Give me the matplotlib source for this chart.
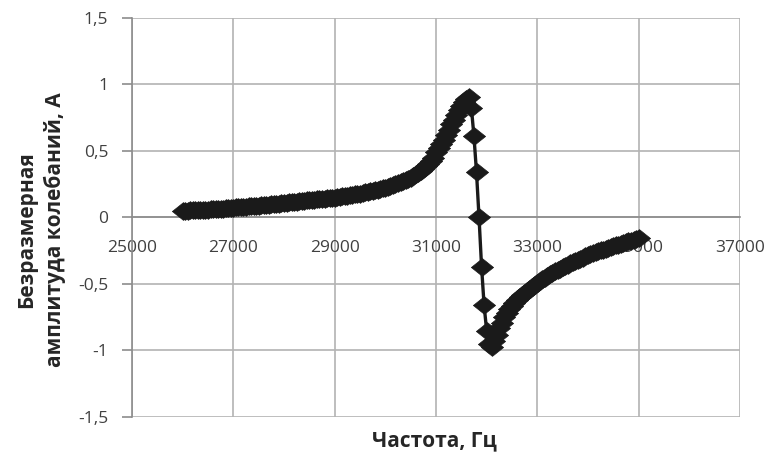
import numpy as np
import matplotlib
matplotlib.use('Agg')
import matplotlib.pyplot as plt

# frequency, Hz (step 50 Hz)
freq = np.arange(26000, 35001, 50)

# dimensionless amplitude
amp = [
    # 26000 - 26950
    0.050, 0.051, 0.052, 0.053, 0.054, 0.055, 0.056, 0.057, 0.058, 0.059,
    0.060, 0.061, 0.062, 0.063, 0.064, 0.066, 0.067, 0.068, 0.070, 0.072,
    # 27000 - 27950
    0.075, 0.076, 0.078, 0.079, 0.080, 0.082, 0.083, 0.085, 0.086, 0.088,
    0.089, 0.091, 0.093, 0.094, 0.096, 0.098, 0.100, 0.102, 0.104, 0.106,
    # 28000 - 28950
    0.110, 0.112, 0.114, 0.116, 0.118, 0.120, 0.122, 0.124, 0.126, 0.128,
    0.130, 0.132, 0.134, 0.136, 0.138, 0.140, 0.142, 0.144, 0.146, 0.148,
    # 29000 - 29950
    0.150, 0.153, 0.156, 0.159, 0.162, 0.165, 0.168, 0.171, 0.174, 0.177,
    0.180, 0.184, 0.188, 0.192, 0.196, 0.200, 0.204, 0.209, 0.214, 0.219,
    # 30000 - 30950
    0.225, 0.231, 0.237, 0.243, 0.250, 0.257, 0.264, 0.272, 0.280, 0.290,
    0.300, 0.312, 0.325, 0.338, 0.352, 0.368, 0.385, 0.404, 0.425, 0.448,
    # 31000 - 31650
    0.490, 0.520, 0.550, 0.585, 0.620, 0.660, 0.700, 0.735, 0.770, 0.805,
    0.840, 0.870, 0.890, 0.905,
    # 31700 - 32100 (resonance)
    0.820, 0.610, 0.340, 0.000, -0.370, -0.660, -0.850, -0.950, -0.975,
    # 32150 - 32950
    -0.930, -0.880, -0.830, -0.790, -0.750, -0.720, -0.690, -0.665, -0.640,
    -0.620, -0.600, -0.580, -0.565, -0.550, -0.535, -0.520, -0.505,
    # 33000 - 33950
    -0.490, -0.477, -0.464, -0.452, -0.440, -0.428, -0.417, -0.406, -0.395,
    -0.385, -0.375, -0.365, -0.355, -0.345, -0.336, -0.327, -0.318, -0.309,
    -0.301, -0.293,
    # 34000 - 35000
    -0.285, -0.277, -0.269, -0.262, -0.255, -0.248, -0.241, -0.234, -0.228,
    -0.222, -0.216, -0.210, -0.204, -0.198, -0.192, -0.186, -0.180, -0.174,
    -0.168, -0.162, -0.156,
]

xticks = [25000, 27000, 29000, 31000, 33000, 35000, 37000]
yticks = [-1.5, -1, -0.5, 0, 0.5, 1, 1.5]
ytick_labels = ['-1,5', '-1', '-0,5', '0', '0,5', '1', '1,5']

plt.rcParams['font.family'] = ['Open Sans', 'DejaVu Sans']

fig = plt.figure(figsize=(7.66, 4.54), dpi=100)
ax = fig.add_axes([0.1723, 0.0815, 0.7937, 0.8789])

# excel-like diamond, a bit wider than tall
diamond = [(-1, 0), (0, 0.8), (1, 0), (0, -0.8), (-1, 0)]
ax.plot(freq, amp, '-', color='#1a1a1a', lw=2.4, marker=diamond, ms=16,
        mec='#1a1a1a', mfc='#1a1a1a', mew=0.5, zorder=3, clip_on=False)

ax.set_xlim(25000, 37000)
ax.set_ylim(-1.5, 1.5)
ax.set_xticks(xticks)
ax.set_xticklabels([str(x) for x in xticks])
ax.set_yticks(yticks)
ax.set_yticklabels(ytick_labels)

grid_c = '#b3b3b3'
ax.grid(True, color=grid_c, lw=1.2)
ax.set_axisbelow(True)

for s in ['top', 'right']:
    ax.spines[s].set_visible(False)
ax.spines['bottom'].set_position(('data', 0))
ax.spines['bottom'].set_color('#8c8c8c')
ax.spines['left'].set_color('#8c8c8c')
ax.spines['bottom'].set_linewidth(1.2)
ax.spines['left'].set_linewidth(1.2)

ax.tick_params(axis='both', colors='#8c8c8c', labelcolor='#404040',
               labelsize=12.5, width=1.2)
ax.tick_params(axis='x', length=0, pad=16)
ax.tick_params(axis='y', length=7, pad=10)

ax.set_xlabel('Частота, Гц', fontsize=15, fontweight='bold', color='#262626')
ax.xaxis.set_label_coords(0.497, -0.033)
ax.set_ylabel('Безразмерная\nамплитуда колебаний, А', fontsize=15,
              fontweight='bold', color='#262626', linespacing=1.4)
ax.yaxis.set_label_coords(-0.108, 0.47)

fig.savefig('out.png', dpi=100)
